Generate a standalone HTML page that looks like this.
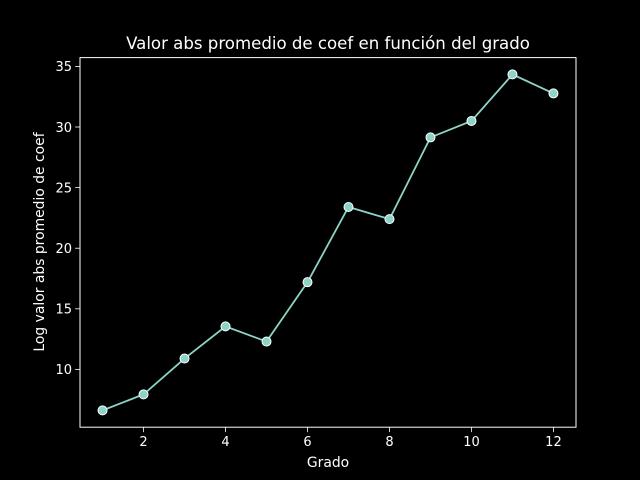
<!DOCTYPE html>
<html><head><meta charset="utf-8"><style>
html,body{margin:0;padding:0;background:#000;}
svg{display:block;font-family:"DejaVu Sans","Liberation Sans",sans-serif;}
</style></head><body>
<svg id="c" width="640" height="480" viewBox="0 0 640 480" xmlns="http://www.w3.org/2000/svg">
<rect width="640" height="480" fill="#000"/>
<text x="328" y="49" fill="#fff" font-size="16.6" text-anchor="middle">Valor abs promedio de coef en función del grado</text>
<text x="328" y="467" fill="#fff" font-size="13.9" text-anchor="middle">Grado</text>
<text x="0" y="0" transform="translate(44,242) rotate(-90)" fill="#fff" font-size="13.9" text-anchor="middle">Log valor abs promedio de coef</text>
<g id="ticks"></g>
<g id="series"></g>
<rect x="80" y="57.6" width="496" height="369.6" fill="none" stroke="#fff" stroke-width="1"/>
</svg>
<script>
const grados = [1,2,3,4,5,6,7,8,9,10,11,12];
const valores = [6.62,7.94,10.9,13.55,12.3,17.2,23.4,22.4,29.14,30.5,34.34,32.77];
const xTicks = [2,4,6,8,10,12];
const yTicks = [10,15,20,25,30,35];

const L=80,R=576,T=57.6,B=427.2;
const xmin0=Math.min(...grados), xmax0=Math.max(...grados);
const xm=(xmax0-xmin0)*0.05, xlo=xmin0-xm, xhi=xmax0+xm;
const ymin0=Math.min(...valores), ymax0=Math.max(...valores);
const ym=(ymax0-ymin0)*0.05, ylo=ymin0-ym, yhi=ymax0+ym;
const sx=v=>L+(v-xlo)/(xhi-xlo)*(R-L);
const sy=v=>B-(v-ylo)/(yhi-ylo)*(B-T);
const NS="http://www.w3.org/2000/svg";
const tg=document.getElementById('ticks'), sg=document.getElementById('series');
function mk(tag,attrs,parent){const e=document.createElementNS(NS,tag);for(const k in attrs)e.setAttribute(k,attrs[k]);parent.appendChild(e);return e;}
xTicks.forEach(t=>{
  const x=sx(t);
  const l=mk('line',{x1:x,x2:x,y1:B,y2:B+4.9,stroke:'#fff','stroke-width':0.8},tg);
  
  
  const tx=mk('text',{x:x,y:B+19,fill:'#fff','font-size':'13','text-anchor':'middle'},tg);
  tx.textContent=t;
  
  
});
yTicks.forEach(t=>{
  const y=sy(t);
  const l=mk('line',{x1:L-4.9,x2:L,y1:y,y2:y,stroke:'#fff','stroke-width':0.8},tg);
  
  
  const tx=mk('text',{x:L-8,y:y+4.8,fill:'#fff','font-size':'13','text-anchor':'end'},tg);
  tx.textContent=t;
  
  
});
const pts=grados.map((g,i)=>sx(g)+','+sy(valores[i])).join(' ');
const pl=mk('polyline',{points:pts,fill:'none',stroke:'#8dd3c7','stroke-width':1.8},sg);


grados.forEach((g,i)=>{
  const c=mk('circle',{cx:sx(g),cy:sy(valores[i]),r:4.5,fill:'#8dd3c7',stroke:'#fff','stroke-width':1},sg);
  
  
});
</script>
</body></html>
